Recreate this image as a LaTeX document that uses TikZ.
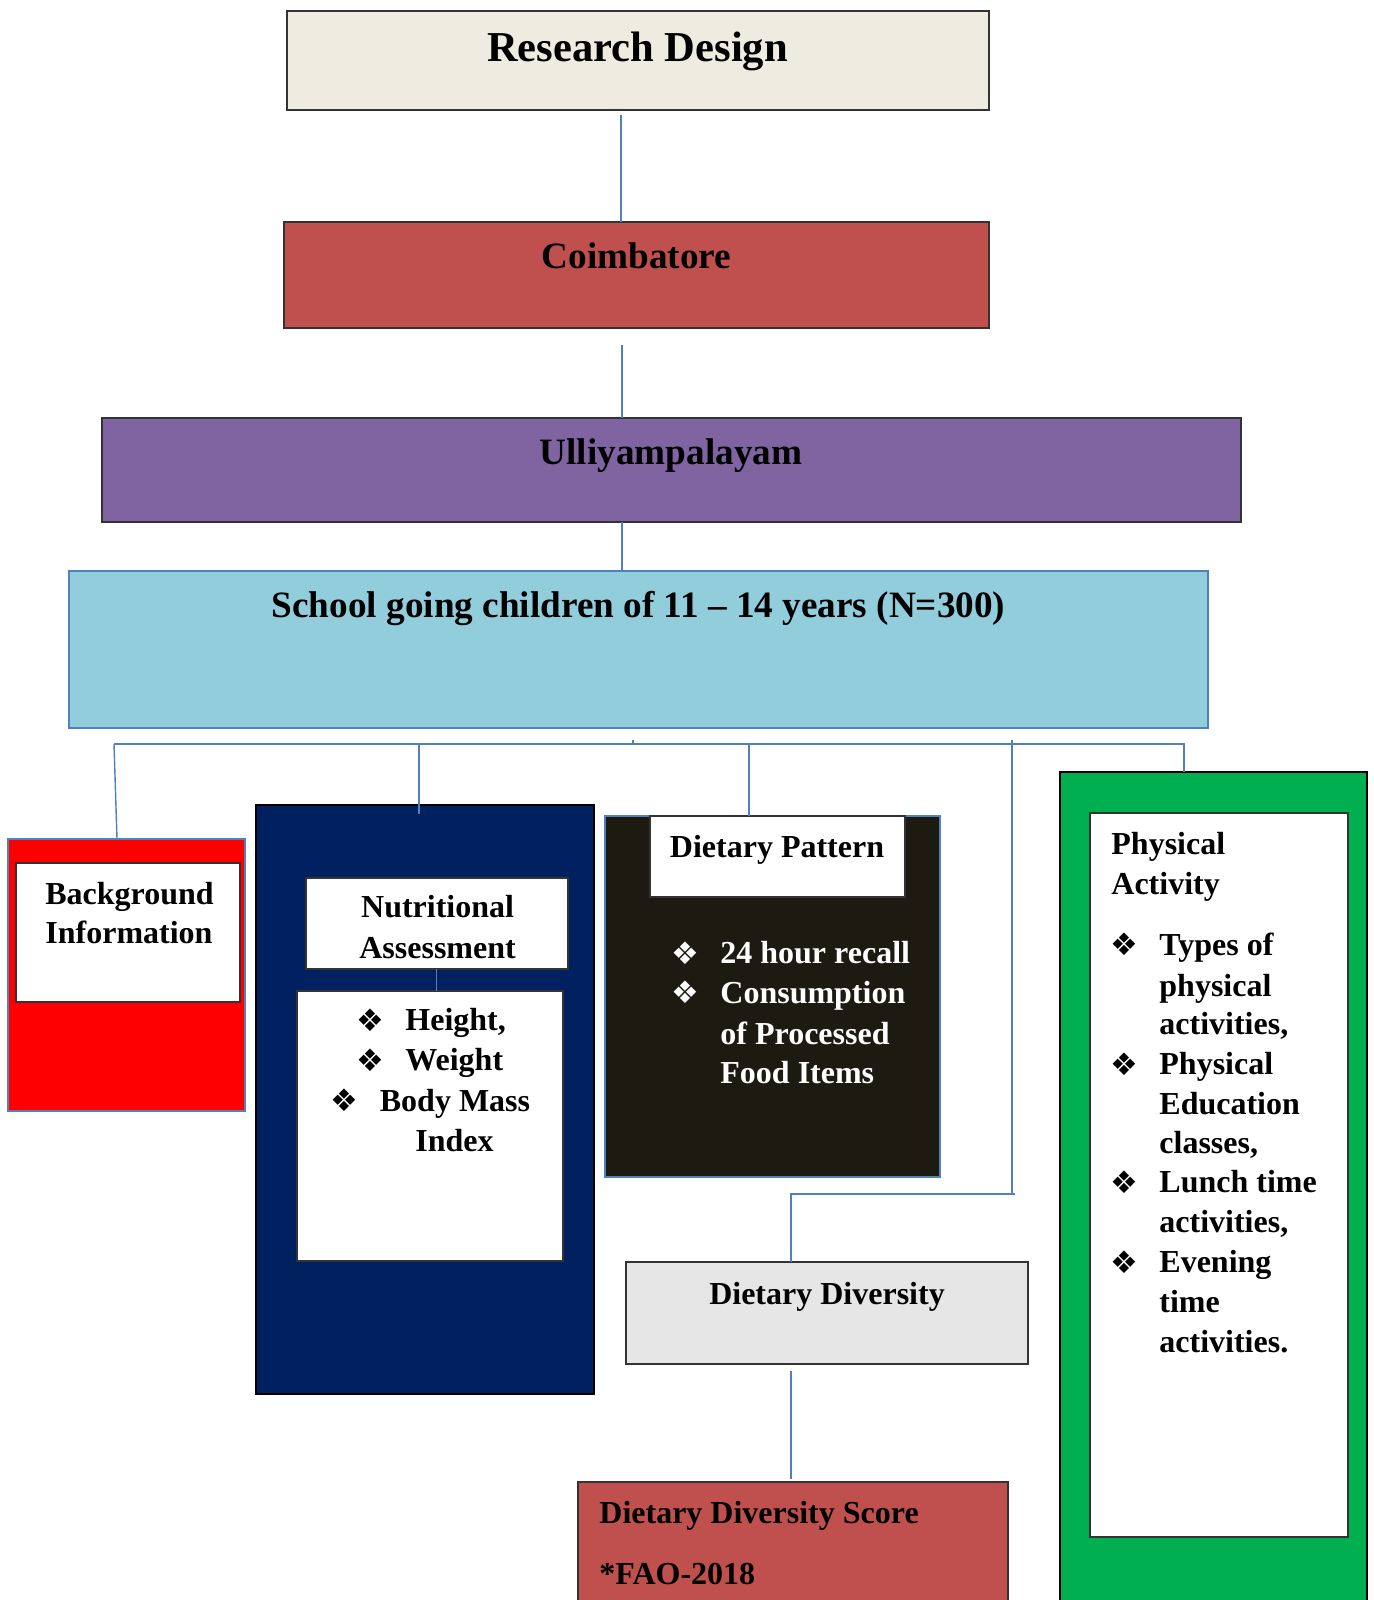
\documentclass[tikz,border=0pt]{standalone}
\usepackage{fontspec}
\setmainfont{Liberation Serif}
\newfontfamily\dingfont{DejaVu Sans}
\usetikzlibrary{calc}
\definecolor{rdbeige}{HTML}{EEECE1}
\definecolor{brick}{HTML}{C0504D}
\definecolor{lilac}{HTML}{8064A2}
\definecolor{aqua}{HTML}{92CDDC}
\definecolor{lineblue}{HTML}{4F81BD}
\definecolor{navy}{HTML}{002060}
\definecolor{dpblack}{HTML}{1D1B11}
\definecolor{ddgray}{HTML}{E6E6E6}
\definecolor{grn}{HTML}{00B050}
\definecolor{pured}{HTML}{FF0000}
\begin{document}
\begin{tikzpicture}[x=0.5pt,y=-0.5pt,
 box/.style={draw=black!80,line width=1pt,inner sep=0pt,outer sep=0pt,anchor=north west},
 bbox/.style={box,draw=lineblue},
 conn/.style={draw=lineblue,line width=0.7pt},
 smalltxt/.style={inner sep=0pt,font=\fontsize{16}{19}\selectfont\bfseries,text height=13.6pt,text depth=3pt},
 medtxt/.style={inner sep=0pt,font=\fontsize{18.6}{22}\selectfont\bfseries,text height=15.8pt,text depth=3.5pt},
 bigtxt/.style={inner sep=0pt,font=\fontsize{21.3}{25}\selectfont\bfseries,text height=18.1pt,text depth=4pt},
 bul/.style={inner sep=0pt,font=\fontsize{15.5}{15.5}\selectfont\dingfont},
]
\useasboundingbox (0,0) rectangle (1373,1600);
\clip (0,0) rectangle (1373,1600);

% main chain
\node[box,fill=rdbeige,minimum width=350.75pt,minimum height=49.5pt] (rd) at (287,11) {};
\node[bigtxt] (rdt) at (637.5,47) {Research Design};
\node[box,fill=brick,minimum width=352.5pt,minimum height=53pt] (coim) at (283.6,222.4) {};
\node[medtxt] (coimt) at (636.5,256) {Coimbatore};
\node[box,fill=lilac,minimum width=569.25pt,minimum height=52pt] (ulli) at (102,418) {};
\node[medtxt] (ullit) at (671,452) {Ulliyampalayam};
\node[bbox,fill=aqua,minimum width=569.5pt,minimum height=78.5pt] (school) at (69,571) {};
\node[medtxt] (schoolt) at (638.5,605) {School going children of 11 -- 14 years (N=300)};

% background
\node[bbox,fill=pured,minimum width=118.5pt,minimum height=136.25pt] (bgout) at (8,838.5) {};
\node[box,fill=white,minimum width=111.7pt,minimum height=69.5pt] (bgin) at (16.3,863) {};
\node[smalltxt,anchor=west] (bg1) at (45,893.6) {Background};
\node[smalltxt,anchor=west] (bg2) at (45,932.4) {Information};

% nutritional
\node[box,draw=black,fill=navy,minimum width=168.85pt,minimum height=294.25pt] (nutout) at (256,805) {};
\node[box,fill=white,minimum width=131pt,minimum height=45.5pt] (nuthead) at (306,878) {};
\node[smalltxt] (nh1) at (437.6,907) {Nutritional};
\node[smalltxt] (nh2) at (437.6,947.7) {Assessment};
\node[box,fill=white,minimum width=133pt,minimum height=135.25pt] (nutlist) at (297,990.5) {};
\node[bul] (nb1) at (370.3,1020) {❖};
\node[bul] (nb2) at (370.3,1060) {❖};
\node[bul] (nb3) at (344.8,1100.7) {❖};
\node[smalltxt,anchor=west] (nl1) at (405,1020) {Height,};
\node[smalltxt,anchor=west] (nl2) at (405,1060) {Weight};
\node[smalltxt,anchor=west] (nl3) at (379.5,1100.7) {Body Mass};
\node[smalltxt,anchor=west] (nl4) at (415,1140.5) {Index};

% dietary pattern
\node[bbox,fill=dpblack,minimum width=167.25pt,minimum height=180.5pt] (dpout) at (605,816) {};
\node[box,fill=white,minimum width=127.5pt,minimum height=40.5pt] (dphead) at (650,816) {};
\node[smalltxt] (dpt) at (777,847) {Dietary Pattern};
\node[bul,text=white] (db1) at (685.5,953) {❖};
\node[bul,text=white] (db2) at (685.5,992.6) {❖};
\node[smalltxt,anchor=west,text=white] (dl1) at (720,953) {24 hour recall};
\node[smalltxt,anchor=west,text=white] (dl2) at (720,992.6) {Consumption};
\node[smalltxt,anchor=west,text=white] (dl3) at (720,1033.4) {of Processed};
\node[smalltxt,anchor=west,text=white] (dl4) at (720,1073) {Food Items};

% dietary diversity
\node[box,fill=ddgray,minimum width=201pt,minimum height=51pt] (dd) at (626,1262) {};
\node[smalltxt] (ddt) at (827,1293.5) {Dietary Diversity};
\node[box,fill=brick,minimum width=215pt,minimum height=70pt] (dds) at (578,1482) {};
\node[smalltxt,anchor=west] (dds1) at (599,1513) {Dietary Diversity Score};
\node[smalltxt,anchor=west] (dds2) at (599,1574) {*FAO-2018};

% physical activity
\node[box,draw=black,fill=grn,minimum width=153.5pt,minimum height=420pt] (paout) at (1060,772) {};
\node[box,fill=white,minimum width=129pt,minimum height=362pt] (pain) at (1089.5,813) {};
\node[smalltxt,anchor=west] (pah1) at (1111,843.6) {Physical};
\node[smalltxt,anchor=west] (pah2) at (1111,883.4) {Activity};
\node[bul] (pb1) at (1124,944.6) {❖};
\node[bul] (pb2) at (1124,1064) {❖};
\node[bul] (pb3) at (1124,1182.3) {❖};
\node[bul] (pb4) at (1124,1261.9) {❖};
\node[smalltxt,anchor=west] (pl1) at (1159,944.6) {Types of};
\node[smalltxt,anchor=west] (pl2) at (1159,985.4) {physical};
\node[smalltxt,anchor=west] (pl3) at (1159,1024.2) {activities,};
\node[smalltxt,anchor=west] (pl4) at (1159,1064) {Physical};
\node[smalltxt,anchor=west] (pl5) at (1159,1103.8) {Education};
\node[smalltxt,anchor=west] (pl6) at (1159,1142.5) {classes,};
\node[smalltxt,anchor=west] (pl7) at (1159,1182.3) {Lunch time};
\node[smalltxt,anchor=west] (pl8) at (1159,1222) {activities,};
\node[smalltxt,anchor=west] (pl9) at (1159,1261.9) {Evening};
\node[smalltxt,anchor=west] (pl10) at (1159,1301.6) {time};
\node[smalltxt,anchor=west] (pl11) at (1159,1341.4) {activities.};

% connectors
\coordinate (xa) at (621,0);
\coordinate (xb) at (622,0);
\coordinate (xt) at (633,0);
\coordinate (xbg) at (117,0);
\coordinate (xn) at (419,0);
\coordinate (xd) at (749,0);
\coordinate (xdd) at (791,0);
\coordinate (xna) at (436.6,0);
\coordinate (busL) at (114,744);
\coordinate (busR) at (1184,744);
\coordinate (ddv) at (1012,740);
\coordinate (ddh) at (1012,1194);

\draw[conn] ($(rd.south -| xa)+(0,5)$) -- (coim.north -| xa);
\draw[conn] ($(coim.south -| xb)+(0,16.5)$) -- (ulli.north -| xb);
\draw[conn] (ulli.south -| xb) -- (school.north -| xb);
\draw[conn] ($(school.south -| xt)+(0,12)$) -- (busL -| xt);
\draw[conn] (busL) -- (busR) -- (paout.north -| busR);
\draw[conn] (busL) -- (bgout.north -| xbg);
\draw[conn] (busL -| xn) -- ($(nutout.north -| xn)+(0,9)$);
\draw[conn] (busL -| xd) -- (dpout.north -| xd);
\draw[conn] (ddv) -- (ddh);
\draw[conn] ($(ddh)+(3,0)$) -- (ddh -| xdd) -- (dd.north -| xdd);
\draw[conn] ($(dd.south -| xdd)+(0,7)$) -- ($(dds.north -| xdd)+(0,-3)$);
\draw[conn] (nuthead.south -| xna) -- (nutlist.north -| xna);
\end{tikzpicture}
\end{document}
